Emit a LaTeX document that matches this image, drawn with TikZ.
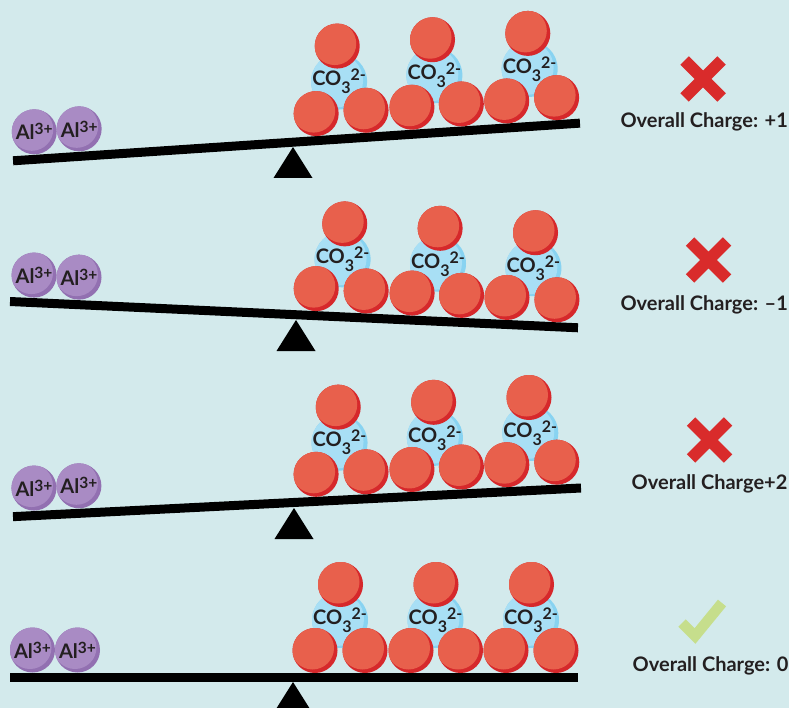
\documentclass[tikz,border=0pt]{standalone}
\usepackage{fontspec}
\setmainfont{Lato}
\definecolor{backdrop}{HTML}{D3EAEC}
\definecolor{oxlight}{HTML}{E8604C}
\definecolor{oxdark}{HTML}{D6282B}
\definecolor{colight}{HTML}{A8DFF5}
\definecolor{codark}{HTML}{88D3F1}
\definecolor{allight}{HTML}{A98BC4}
\definecolor{aldark}{HTML}{9270B1}
\definecolor{ink}{HTML}{231F20}
\definecolor{crossred}{HTML}{D92B2B}
\definecolor{tickgreen}{HTML}{C6DE8C}
\tikzset{
  oxygen/.style={circle,inner sep=0pt,minimum size=45pt,fill=oxdark,
    path picture={\fill[oxlight] ([shift={(-2.5,-2.5)}]path picture bounding box.center) circle (21.5pt);}},
  carbonate/.style={circle,inner sep=0pt,minimum size=56pt,fill=codark,
    path picture={\fill[colight] ([shift={(-3,-1)}]path picture bounding box.center) circle (27pt);}},
  aluminium/.style={circle,inner sep=0pt,minimum size=45pt,fill=aldark,text=ink,
    font=\fontsize{20}{20}\selectfont\bfseries,
    path picture={\fill[allight] ([shift={(-2.5,-2.5)}]path picture bounding box.center) circle (21.5pt);}},
  formula/.style={inner sep=0pt,text=ink,font=\fontsize{20}{20}\selectfont\bfseries},
  beam/.style={line width=9pt},
  fulcrum/.style={fill=black},
  crossmark/.style={crossred,line width=12pt},
  tickmark/.style={tickgreen,line width=10.5pt},
  charge/.style={anchor=base,inner sep=0pt,text=ink,font=\fontsize{20}{20}\selectfont\bfseries},
}
\newcommand{\alion}{Al\raisebox{5pt}{\fontsize{15.5}{15.5}\selectfont 3+}}
\newcommand{\carbion}{CO\raisebox{-8pt}{\fontsize{16}{16}\selectfont 3}\raisebox{5pt}{\fontsize{16}{16}\selectfont 2-}}
\begin{document}
\begin{tikzpicture}[x=1pt,y=-1pt]
  \fill[backdrop] (0,0) rectangle (789,708);
  \useasboundingbox (0,0) rectangle (789,708);

  % row 1: two Al against three carbonates, tipped up on the right
  \fill[fulcrum] (293,147) -- ++(-19.5,31) -- ++(39,0) -- cycle;
  \begin{scope}[shift={(296,142)},rotate=3.8]
    \coordinate (bl1) at (-283.6,0);
    \coordinate (br1) at (284.6,0);
    \draw[beam] (bl1) -- (br1);
    \path
      (-260.5,-27.5) node[aluminium] (al11) {\alion}
      (-215.5,-27.5) node[aluminium] (al12) {\alion}
      (47,-57.5) node[carbonate] (co11) {}
      (142.5,-57.5) node[carbonate] (co12) {}
      (238,-57.5) node[carbonate] (co13) {}
      (22,-27) node[oxygen] (ox11) {}
      (72,-27) node[oxygen] (ox12) {}
      (47.5,-93) node[oxygen] (ox13) {}
      (118,-27) node[oxygen] (ox14) {}
      (167.5,-27) node[oxygen] (ox15) {}
      (143,-93) node[oxygen] (ox16) {}
      (213,-27) node[oxygen] (ox17) {}
      (263,-27) node[oxygen] (ox18) {}
      (238.5,-93) node[oxygen] (ox19) {};
    \path
      (co11) node[formula] (fm11) {\carbion}
      (co12) node[formula] (fm12) {\carbion}
      (co13) node[formula] (fm13) {\carbion};
  \end{scope}

  % row 2
  \fill[fulcrum] (296,320) -- ++(-19.5,31) -- ++(39,0) -- cycle;
  \begin{scope}[shift={(293,314.6)},rotate=-2.65]
    \coordinate (bl2) at (-283.3,0);
    \coordinate (br2) at (285.3,0);
    \draw[beam] (bl2) -- (br2);
    \path
      (-260.5,-27.5) node[aluminium] (al21) {\alion}
      (-215.5,-27.5) node[aluminium] (al22) {\alion}
      (47,-57.5) node[carbonate] (co21) {}
      (142.5,-57.5) node[carbonate] (co22) {}
      (238,-57.5) node[carbonate] (co23) {}
      (22,-27) node[oxygen] (ox21) {}
      (72,-27) node[oxygen] (ox22) {}
      (47.5,-93) node[oxygen] (ox23) {}
      (118,-27) node[oxygen] (ox24) {}
      (167.5,-27) node[oxygen] (ox25) {}
      (143,-93) node[oxygen] (ox26) {}
      (213,-27) node[oxygen] (ox27) {}
      (263,-27) node[oxygen] (ox28) {}
      (238.5,-93) node[oxygen] (ox29) {};
    \path
      (co21) node[formula] (fm21) {\carbion}
      (co22) node[formula] (fm22) {\carbion}
      (co23) node[formula] (fm23) {\carbion};
  \end{scope}

  % row 3
  \fill[fulcrum] (294,508) -- ++(-19.5,31) -- ++(39,0) -- cycle;
  \begin{scope}[shift={(295.5,502.4)},rotate=2.89]
    \coordinate (bl3) at (-282.9,0);
    \coordinate (br3) at (285.9,0);
    \draw[beam] (bl3) -- (br3);
    \path
      (-260.5,-27.5) node[aluminium] (al31) {\alion}
      (-215.5,-27.5) node[aluminium] (al32) {\alion}
      (47,-57.5) node[carbonate] (co31) {}
      (142.5,-57.5) node[carbonate] (co32) {}
      (238,-57.5) node[carbonate] (co33) {}
      (22,-27) node[oxygen] (ox31) {}
      (72,-27) node[oxygen] (ox32) {}
      (47.5,-93) node[oxygen] (ox33) {}
      (118,-27) node[oxygen] (ox34) {}
      (167.5,-27) node[oxygen] (ox35) {}
      (143,-93) node[oxygen] (ox36) {}
      (213,-27) node[oxygen] (ox37) {}
      (263,-27) node[oxygen] (ox38) {}
      (238.5,-93) node[oxygen] (ox39) {};
    \path
      (co31) node[formula] (fm31) {\carbion}
      (co32) node[formula] (fm32) {\carbion}
      (co33) node[formula] (fm33) {\carbion};
  \end{scope}

  % row 4: level
  \fill[fulcrum] (293,682) -- ++(-19.5,31) -- ++(39,0) -- cycle;
  \begin{scope}[shift={(293,677.5)}]
    \coordinate (bl4) at (-283,0);
    \coordinate (br4) at (285,0);
    \draw[beam] (bl4) -- (br4);
    \path
      (-260.5,-27.5) node[aluminium] (al41) {\alion}
      (-215.5,-27.5) node[aluminium] (al42) {\alion}
      (47,-57.5) node[carbonate] (co41) {}
      (142.5,-57.5) node[carbonate] (co42) {}
      (238,-57.5) node[carbonate] (co43) {}
      (22,-27) node[oxygen] (ox41) {}
      (72,-27) node[oxygen] (ox42) {}
      (47.5,-93) node[oxygen] (ox43) {}
      (118,-27) node[oxygen] (ox44) {}
      (167.5,-27) node[oxygen] (ox45) {}
      (143,-93) node[oxygen] (ox46) {}
      (213,-27) node[oxygen] (ox47) {}
      (263,-27) node[oxygen] (ox48) {}
      (238.5,-93) node[oxygen] (ox49) {};
    \path
      (co41) node[formula] (fm41) {\carbion}
      (co42) node[formula] (fm42) {\carbion}
      (co43) node[formula] (fm43) {\carbion};
  \end{scope}

  % verdicts
  \draw[crossmark] (684.5,60.5) -- (721.5,97.5) (684.5,97.5) -- (721.5,60.5);
  \draw[crossmark] (690,241.5) -- (727,278.5) (690,278.5) -- (727,241.5);
  \draw[crossmark] (691,421.5) -- (728,458.5) (691,458.5) -- (728,421.5);
  \draw[tickmark] (682,623) -- (695,636) -- (722,603);
  \node[charge,anchor=base east] (q1) at (788,128) {Overall Charge: +1};
  \node[charge,anchor=base east] (q2) at (788,310) {Overall Charge: –1};
  \node[charge] (q3) at (709.5,489) {Overall Charge+2};
  \node[charge] (q4) at (710.5,671.5) {Overall Charge: 0};
\end{tikzpicture}
\end{document}
